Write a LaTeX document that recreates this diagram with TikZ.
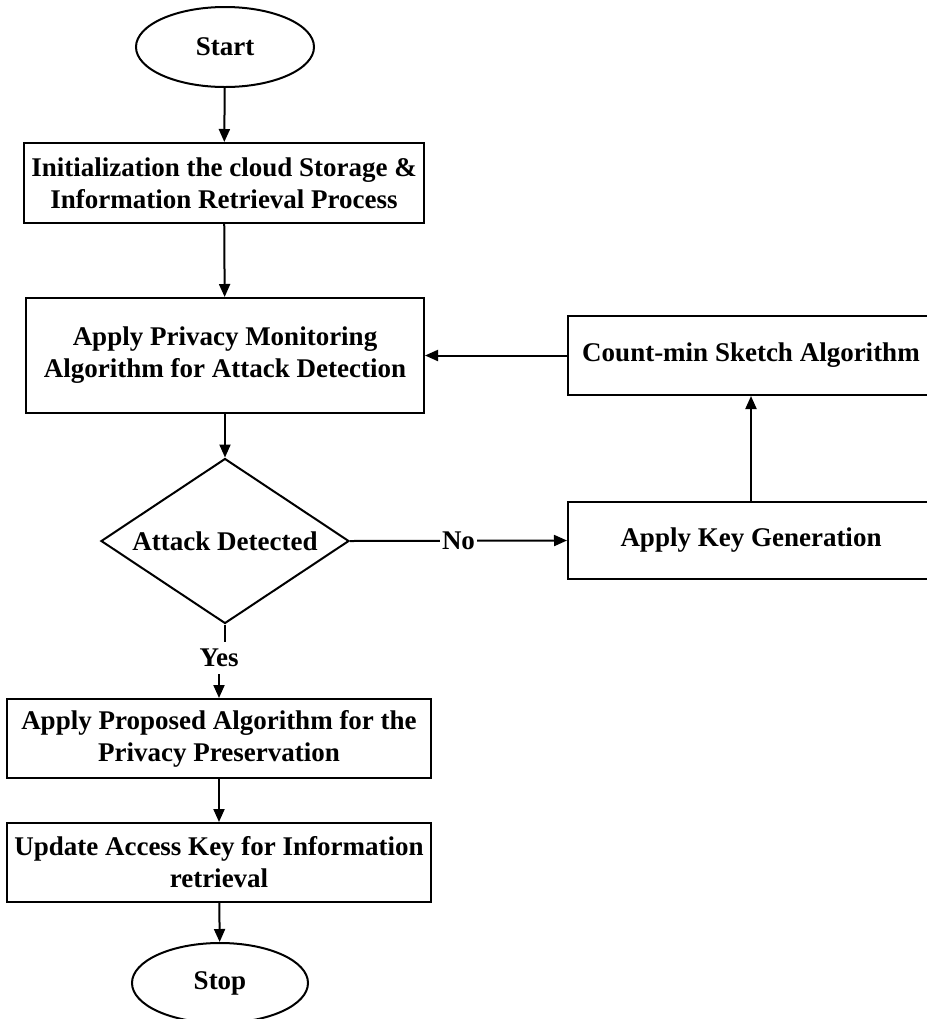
\documentclass[tikz,border=0pt]{standalone}
\usepackage{fontspec}
\setmainfont{Liberation Serif}
\usetikzlibrary{shapes.geometric, arrows}
\usetikzlibrary{calc, arrows.meta}

\begin{document}
\begin{tikzpicture}[x=0.5pt, y=-0.5pt,
        font=\fontsize{13.5}{16}\selectfont\bfseries,
        every node/.style={align=center},
        terminal/.style={draw, ellipse, line width=1pt, inner sep=0pt, minimum width=89pt, minimum height=40pt},
        process/.style={draw, rectangle, line width=1pt, inner sep=2pt},
        decision/.style={draw, diamond, line width=1pt, inner sep=0pt, aspect=1.5, minimum width=124pt, minimum height=82.5pt},
        flow/.style={line width=1pt, -{Triangle[length=6.5pt, width=5.5pt]}}]
        \clip (0,0) rectangle (927,1019);

        % Main column
        \node[terminal] (start) at (225,47) {Start};
        \node[process, minimum width=200pt, minimum height=40pt] (init) at (224,183)
            {Initialization the cloud Storage \&\\Information Retrieval Process};
        \node[process, minimum width=199pt, minimum height=57.5pt] (monitor) at (225,355.5)
            {Apply Privacy Monitoring\\Algorithm for Attack Detection};
        \node[decision] (detect) at (225,541) {Attack Detected};
        \node (yes) at (219,658) {Yes};
        \node[process, minimum width=212pt, minimum height=39.5pt] (propose) at (219,738.5)
            {Apply Proposed Algorithm for the\\Privacy Preservation};
        \node[process, minimum width=212pt, minimum height=39.5pt] (update) at (219,862.5)
            {Update Access Key for Information\\retrieval};
        \node[terminal, minimum width=88pt] (stop) at (220,983) {Stop};

        % Side branch
        \node[process, minimum width=183pt, minimum height=38.5pt] (keygen) at (751,540.5) {Apply Key Generation};
        \node[process, minimum width=183pt, minimum height=39.5pt] (countmin) at (751,355.5) {Count-min Sketch Algorithm};

        % Connectors
        \draw[flow] (start) -- (init);
        \draw[flow] (init) -- (monitor);
        \draw[flow] (monitor) -- (detect);
        \draw[line width=1pt] (detect.south) -- (detect.south |- yes.north);
        \draw[flow] (yes.south) -- (propose.north);
        \draw[flow] (propose) -- (update);
        \draw[flow] (update) -- (stop);
        \draw[flow] (detect.east) -- node[fill=white, inner sep=1pt] (no) {No} (keygen.west);
        \draw[flow] (keygen.north) -- (countmin.south);
        \draw[flow] (countmin.west) -- (monitor.east);
    \end{tikzpicture}
\end{document}
